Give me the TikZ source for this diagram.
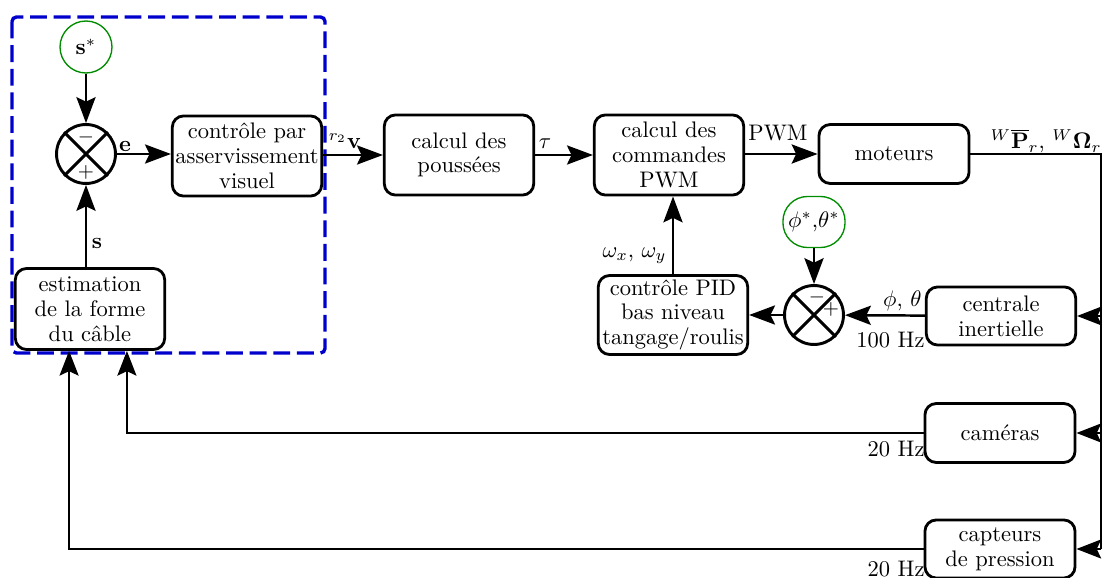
\documentclass[tikz,border=0pt]{standalone}
\usepackage{amsmath}
\usetikzlibrary{arrows.meta,shapes.geometric,calc}
\definecolor{dblue}{RGB}{0,0,205}
\definecolor{dgreen}{RGB}{0,140,0}
\begin{document}
\begin{tikzpicture}[x=0.4444pt,y=-0.4444pt,
  blk/.style={draw, rounded corners=5pt, line width=1.25pt, align=center, minimum width=66.4pt, inner sep=1pt, font=\fontsize{10}{11}\selectfont},
  sumj/.style={draw, circle, line width=1.3pt, minimum size=26.2pt, inner sep=0pt},
  refc/.style={draw=dgreen, line width=0.6pt, inner sep=0pt},
  arr/.style={-{Stealth[length=11.5pt,width=8.5pt,inset=2pt]}, line width=1.1pt},
  thinarr/.style={-{Stealth[length=11pt,width=8.5pt,inset=2pt]}, line width=0.6pt},
  lbl/.style={inner sep=0pt},
  sgn/.style={inner sep=0pt, font=\small}
]
\useasboundingbox (0,0) rectangle (1103,578);

% group frame
\draw[dblue, line width=1.5pt, dash pattern=on 7.5pt off 3pt, rounded corners=2pt] (12,17) rectangle (325,353);

% nodes
\node[refc, circle, minimum size=23.1pt] (sref) at (86,47) {$\mathbf{s}^*$};
\node[sumj] (s1) at (86,154) {};
\node[blk, minimum height=35.6pt] (csv) at (247,156) {contrôle par\\asservissement\\visuel};
\node[blk, minimum height=35.6pt] (pous) at (459,155) {calcul des\\poussées};
\node[blk, minimum height=35.6pt] (pwm) at (669,155) {calcul des\\commandes\\PWM};
\node[blk, minimum height=26.2pt, minimum width=66.7pt] (mot) at (894,154) {moteurs};
\node[blk, minimum height=36pt] (est) at (90,309) {estimation\\de la forme\\du câble};
\node[blk, minimum height=35.1pt] (pid) at (673,315) {contrôle PID\\bas niveau\\tangage/roulis};
\node[sumj] (s2) at (814,315) {};
\node[refc, rounded corners=11pt, minimum width=27.6pt, minimum height=22.7pt] (pref) at (814,222) {$\phi^*$,$\theta^*$};
\node[blk, minimum height=25.8pt] (cent) at (1001,316) {centrale\\inertielle};
\node[blk, minimum height=26.2pt, minimum width=66.7pt] (cam) at (1000,433) {caméras};
\node[blk, minimum height=25.8pt, minimum width=66.7pt] (capt) at (1000,549) {capteurs\\de pression};

% junction crosses and signs
\draw[line width=1.3pt] (s1.north west) -- (s1.south east) (s1.north east) -- (s1.south west);
\draw[line width=1.3pt] (s2.north west) -- (s2.south east) (s2.north east) -- (s2.south west);
\node[sgn] (m1) at (86,137) {$-$};
\node[sgn] (p1) at (86,172) {$+$};
\node[sgn] (m2) at (817,297) {$-$};
\node[sgn] (p2) at (831,309) {$+$};

% connectors
\draw[arr] (sref.south) -- (s1.north);
\draw[arr] (s1.east) -- (s1.east -| csv.west);
\draw[arr] (s1 |- est.north) -- (s1.south);
\draw[arr] (csv.east |- pous.west) -- (pous.west);
\draw[arr] (pous) -- (pwm);
\draw[arr] (pwm.east |- mot.west) -- (mot.west);
\draw[arr] (pid.north) -- (pid.north |- pwm.south);
\draw[arr] (pref) -- (s2);
\draw[arr] (cent) -- (s2);
\draw[arr] (s2) -- (pid);

\coordinate (rr) at (1101,0);
\draw[line width=0.6pt] (mot.east) -| (capt.east -| rr);
\draw[thinarr] (cent.east -| rr) -- (cent.east);
\draw[thinarr] (cam.east -| rr) -- (cam.east);
\draw[thinarr] (capt.east -| rr) -- (capt.east);
\draw[thinarr] (cam.west) -| ([xshift=16.4pt]est.south);
\draw[thinarr] (capt.west) -| ([xshift=-9.3pt]est.south);

% labels
\node[lbl] (le) at (125,147) {$\mathbf{e}$};
\node[lbl] (ls) at (97,244) {$\mathbf{s}$};
\node[lbl] (lv) at (345,141) {${}^{r_2}\mathbf{v}$};
\node[lbl] (lt) at (545,144) {$\tau$};
\node[lbl] (lp) at (778,133) {PWM};
\node[lbl, anchor=east] (lw) at (1102,141) {${}^{W}\overline{\mathbf{P}}_r$, ${}^{W}\mathbf{\Omega}_r$};
\node[lbl, anchor=east] (lom) at (667,256) {$\omega_x$, $\omega_y$};
\node[lbl, anchor=east] (lph) at (922,301) {$\phi$, $\theta$};
\node[lbl, anchor=east] (lh1) at (925,340) {100 Hz};
\node[lbl, anchor=east] (lh2) at (925,449) {20 Hz};
\node[lbl, anchor=east] (lh3) at (925,569) {20 Hz};
\end{tikzpicture}
\end{document}
